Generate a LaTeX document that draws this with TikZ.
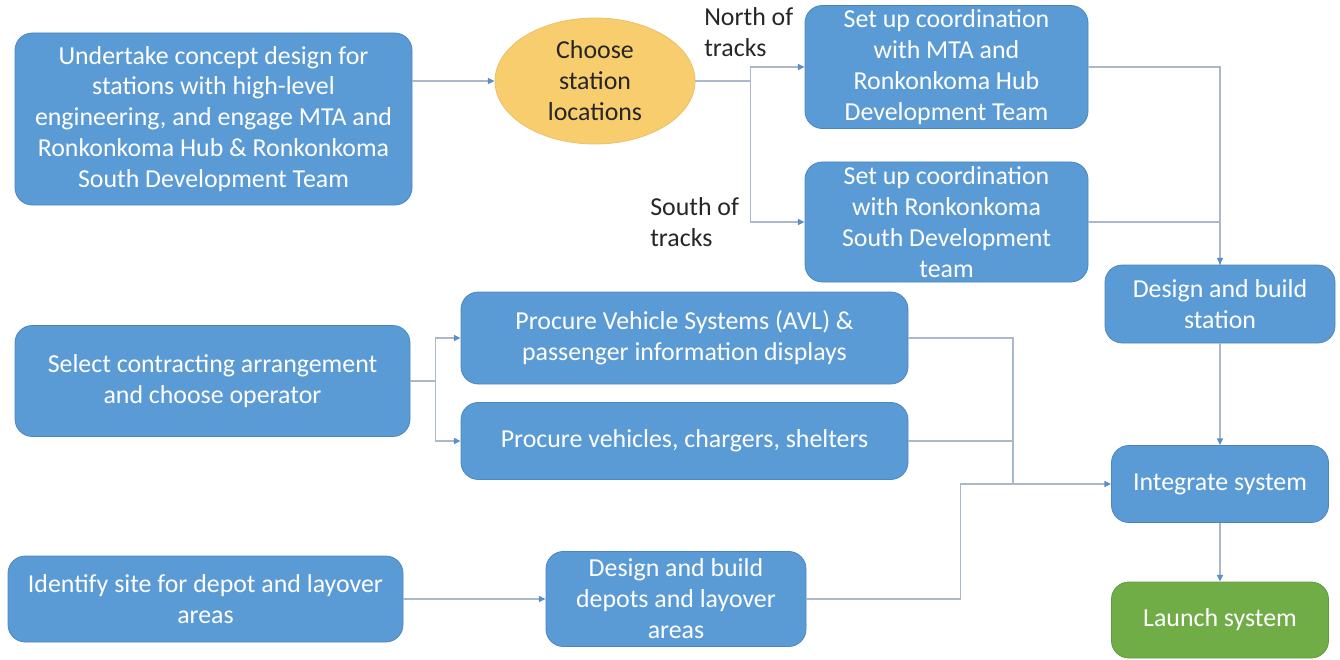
\documentclass[tikz,border=0pt]{standalone}
\usepackage{fontspec}
\setmainfont{Carlito}
\usetikzlibrary{arrows.meta,shapes.geometric}
\definecolor{boxblue}{HTML}{5B9BD5}
\definecolor{boxedge}{HTML}{4A86C0}
\definecolor{ovalfill}{HTML}{F8CD6E}
\definecolor{ovaledge}{HTML}{EBC068}
\definecolor{launchgreen}{HTML}{70AD47}
\definecolor{launchedge}{HTML}{62993D}
\definecolor{linkgrey}{HTML}{A9B8CA}
\definecolor{tipblue}{HTML}{5B8FC9}
\definecolor{labeltext}{HTML}{262626}
\tikzset{
  stepbox/.style={draw=boxedge, line width=0.6pt, fill=boxblue, rounded corners=13pt,
    text=white, align=center, inner sep=0pt,
    font=\fontsize{19.4}{23.2}\selectfont},
  choicebox/.style={ellipse, draw=ovaledge, line width=0.6pt, fill=ovalfill,
    text=labeltext, align=center, inner sep=0pt,
    font=\fontsize{19.4}{23.2}\selectfont},
  endbox/.style={stepbox, draw=launchedge, fill=launchgreen},
  sidelabel/.style={text=labeltext, align=left, inner sep=0pt, anchor=west,
    font=\fontsize{19.4}{23.2}\selectfont},
  % box size given in pixel units of the drawing grid
  size/.style n args={2}{minimum width=0.75pt*#1, minimum height=0.75pt*#2},
  link/.style={draw=linkgrey, line width=1pt},
  arrowlink/.style={link, -{Triangle[length=5pt,width=4.5pt,color=tipblue]}},
}
\begin{document}
\begin{tikzpicture}[x=0.75pt,y=-0.75pt]
\useasboundingbox (0,0) rectangle (1340,660);

% process steps
\node[stepbox, size={397}{172}] (und) at (213.5,119)
  {Undertake concept design for\\stations with high-level\\engineering, and engage MTA and\\Ronkonkoma Hub \& Ronkonkoma\\South Development Team};
\node[choicebox, size={200}{126}] (ell) at (595,81)
  {Choose\\station\\locations};
\node[stepbox, size={283}{123}] (north) at (946.5,67)
  {Set up coordination\\with MTA and\\Ronkonkoma Hub\\Development Team};
\node[stepbox, size={283}{120}] (south) at (946.5,222)
  {Set up coordination\\with Ronkonkoma\\South Development\\team};
\node[stepbox, size={230}{78}] (station) at (1220,304)
  {Design and build\\station};
\node[stepbox, size={395}{111}] (select) at (212.5,381)
  {Select contracting arrangement\\and choose operator};
\node[stepbox, size={447}{92}] (avl) at (684.5,338)
  {Procure Vehicle Systems (AVL) \&\\passenger information displays};
\node[stepbox, size={447}{77}] (veh) at (684.5,441)
  {Procure vehicles, chargers, shelters};
\node[stepbox, size={217}{77}] (integ) at (1220,484)
  {Integrate system};
\node[stepbox, size={395}{86}] (ident) at (205.5,599)
  {Identify site for depot and layover\\areas};
\node[stepbox, size={260}{95}] (dep) at (676,599)
  {Design and build\\depots and layover\\areas};
\node[endbox, size={217}{76}] (launch) at (1220,620)
  {Launch system};

% branch labels
\node[sidelabel] (nlab) at (704,32) {North of\\tracks};
\node[sidelabel] (slab) at (650,222) {South of\\tracks};

% connectors
\draw[arrowlink] (und.east |- ell.west) -- (ell.west);
\draw[link] (ell.east) -- ++(55,0) coordinate (jn);
\draw[arrowlink] (jn) |- (north.west);
\draw[arrowlink] (jn) |- (south.west);
\draw[link] (north.east) -| (station.north);
\draw[arrowlink] (south.east) -| (station.north);
\draw[arrowlink] (station.south) -- (integ.north);
\draw[arrowlink] (integ.south) -- (launch.north);
\draw[link] (select.east) -- ++(25,0) coordinate (js);
\draw[arrowlink] (js) |- (avl.west);
\draw[arrowlink] (js) |- (veh.west);
\coordinate (jm) at (1013,484);
\draw[link] (avl.east) -| (jm);
\draw[link] (veh.east) -| (jm);
\draw[arrowlink] (ident.east) -- (dep.west);
\draw[arrowlink] (dep.east) -- ++(154,0) |- (integ.west);
\end{tikzpicture}
\end{document}
